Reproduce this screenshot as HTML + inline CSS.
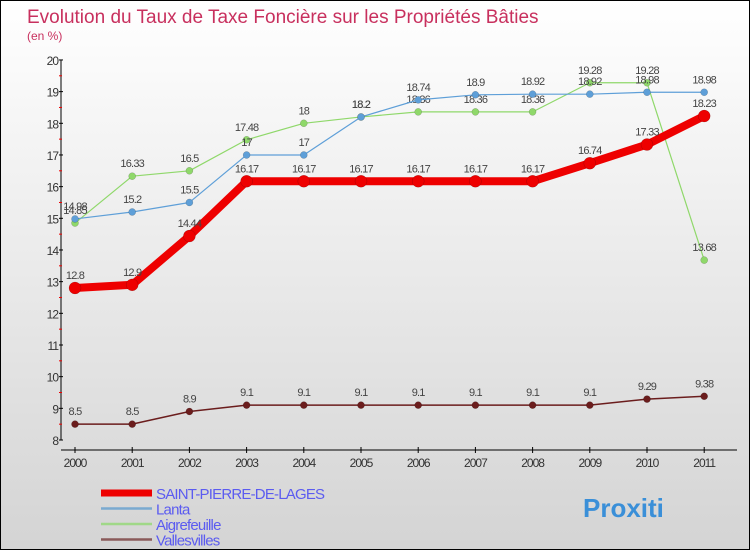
<!DOCTYPE html>
<html><head><meta charset="utf-8"><style>
body{margin:0}
#c{width:748px;height:548px;border:1px solid #000;background:linear-gradient(#fff,#d4d4d4);position:relative;font-family:"Liberation Sans",sans-serif}
</style></head><body>
<div id="c">
<svg id="s" width="748" height="548"></svg>
</div>
<script>
const years=["2000","2001","2002","2003","2004","2005","2006","2007","2008","2009","2010","2011"];
const spdl=[12.8,12.9,14.44,16.17,16.17,16.17,16.17,16.17,16.17,16.74,17.33,18.23];
const lanta=[14.98,15.2,15.5,17,17,18.2,18.74,18.9,18.92,18.92,18.98,18.98];
const aigre=[14.85,16.33,16.5,17.48,18,18.2,18.36,18.36,18.36,19.28,19.28,13.68];
const valles=[8.5,8.5,8.9,9.1,9.1,9.1,9.1,9.1,9.1,9.1,9.29,9.38];
const yTicks=[8,9,10,11,12,13,14,15,16,17,18,19,20];
const NS="http://www.w3.org/2000/svg";
const s=document.getElementById('s');
const X=i=>75-1+i*57.2, Y=v=>439-(v-8)*31.67;
function el(t,a,txt){const e=document.createElementNS(NS,t);for(const k in a)e.setAttribute(k,a[k]);if(txt!=null)e.textContent=txt;s.appendChild(e);return e;}
let t=el('text',{x:26,y:22,fill:'#c8305e','font-size':19},'Evolution du Taux de Taxe Foncière sur les Propriétés Bâties');

t=el('text',{x:26,y:39,fill:'#c8305e','font-size':12},'(en %)');

let a=el('line',{x1:60,y1:59,x2:60,y2:439,stroke:'#000'});

a=el('line',{x1:60,y1:449,x2:736,y2:449,stroke:'#000'});

yTicks.forEach(v=>{
 el('line',{x1:58,y1:Y(v),x2:62,y2:Y(v),stroke:'#000'});
 if(v<20) el('line',{x1:58,y1:Y(v+0.5),x2:61,y2:Y(v+0.5),stroke:'#e00'});
 const l=el('text',{x:57,y:Y(v)+5,'text-anchor':'end','font-size':12,fill:'#333','letter-spacing':'-1'},v);
 
});
years.forEach((y,i)=>{
 el('line',{x1:X(i),y1:446,x2:X(i),y2:452,stroke:'#000'});
 const l=el('text',{x:X(i),y:466,'text-anchor':'middle','font-size':12,fill:'#333','letter-spacing':'-1'},y);
 
});
function series(d,col,w,r,name,lab){
 const p=el('polyline',{points:d.map((v,i)=>X(i)+','+Y(v)).join(' '),fill:'none',stroke:col,'stroke-width':w,'stroke-linejoin':'round'});
 
 d.forEach((v,i)=>{
  const c=el('circle',{cx:X(i),cy:Y(v),r:r,fill:col,stroke:'#0004','stroke-width':0.5});
  
  const l=el('text',{x:X(i),y:Y(v)-9,'text-anchor':'middle','font-size':11,fill:'#444','letter-spacing':'-0.8'},v);
  
 });
}
series(valles,'#6b1d1d',1.5,3.5,'vallesvilles');
series(aigre,'#8fd86a',1.2,3.5,'aigrefeuille');
series(lanta,'#5e9fd8',1.2,3.5,'lanta');
series(spdl,'#ee0000',8,6,'saint-pierre-de-lages');
const leg=[['SAINT-PIERRE-DE-LAGES','#ee0000',7],['Lanta','#7aaad0',2.5],['Aigrefeuille','#a0d888',2.5],['Vallesvilles','#8a5a5a',2.5]];
leg.forEach((g,i)=>{
 const y=492+i*15.5;
 const l=el('line',{x1:100,y1:y,x2:151,y2:y,stroke:g[1],'stroke-width':g[2]});
 
 const tx=el('text',{x:155,y:y+6,'font-size':15,fill:'#5b5bf0','letter-spacing':'-0.8'},g[0]);
 
});
t=el('text',{x:582,y:516,'font-size':26,'font-weight':'bold',fill:'#3a8fd8'},'Proxiti');

</script>
</body></html>
